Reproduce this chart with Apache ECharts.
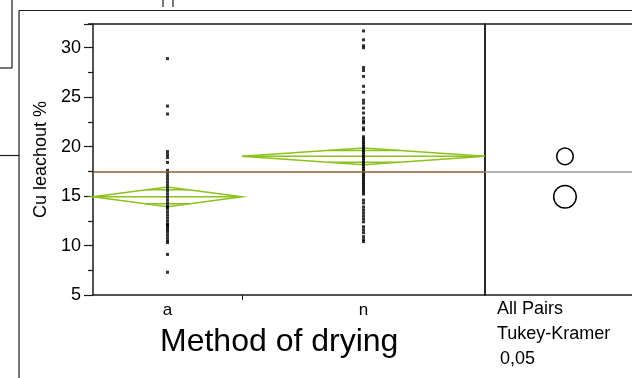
<!DOCTYPE html>
<html>
<head>
<meta charset="utf-8">
<script src="https://cdn.jsdelivr.net/npm/echarts@6/dist/echarts.min.js"></script>
<style>
  html, body { margin: 0; padding: 0; background: #fff; }
  #chart { width: 632px; height: 378px; }
</style>
</head>
<body>
<div id="chart"></div>
<script>
// Oneway analysis of Cu leachout % by method of drying
const categories = ['a', 'n'];
const groupSizes = [38, 62];

const leachA = [28.9, 24.1, 23.3, 19.5, 19.2, 18.9, 18.4, 17.6, 17.3, 17.0,
  16.7, 16.4, 16.1, 15.8, 15.5, 15.2, 14.9, 14.6, 14.3, 14.0,
  13.9, 13.7, 13.4, 13.1, 12.8, 12.5, 12.2, 12.1, 12.0, 11.8,
  11.6, 11.4, 11.1, 10.8, 10.5, 10.3, 9.1, 7.3];

const leachN = [31.7, 30.8, 30.2, 30.0, 28.0, 27.7, 27.1, 26.1, 25.5, 24.7,
  24.4, 23.9, 23.4, 22.9, 22.6, 22.4, 21.9, 21.7, 21.0, 20.8,
  20.6, 20.4, 20.2, 20.0, 19.8, 19.6, 19.4, 19.2, 19.0, 18.8,
  18.6, 18.4, 18.2, 18.0, 17.8, 17.6, 17.4, 17.2, 17.0, 16.8,
  16.6, 16.4, 16.2, 16.0, 15.8, 15.6, 15.4, 15.2, 14.6, 14.3,
  13.9, 13.6, 13.3, 13.0, 12.7, 12.4, 11.9, 11.6, 11.3, 10.9,
  10.6, 10.4];

const groupMeans = [14.93, 19.02];
const groupCI = [1.0, 0.84];
const grandMean = 17.48;
const tukeyRadii = [1.14, 0.84];

const yMin = 5, yMax = 32.4, yStep = 5;
const comparisonText = ['All Pairs', 'Tukey-Kramer', '0,05'];
const xTitle = 'Method of drying';
const yTitle = 'Cu leachout %';

// group widths on the x axis are proportional to group sizes
const total = groupSizes[0] + groupSizes[1];
const bounds = [[0, groupSizes[0]], [groupSizes[0], total]];
const centers = bounds.map(b => (b[0] + b[1]) / 2);

const pointData = [];
[leachA, leachN].forEach((vals, i) => {
  vals.forEach(v => pointData.push([centers[i], v]));
});

const diamondData = bounds.map((b, i) => [b[0], b[1], groupMeans[i], groupCI[i]]);
const circleX = 0.544;
const circleData = groupMeans.map((m, i) => [circleX, m, tukeyRadii[i]]);

const ink = '#1a1a1a';
const green = '#8cc21a';
const font = 'Liberation Sans, Arial, sans-serif';

const chart = echarts.init(document.getElementById('chart'));

chart.setOption({
  animation: false,
  backgroundColor: '#fff',
  grid: [
    { left: 93, top: 24, width: 392, height: 271 },
    { left: 485, top: 24, right: 0, height: 271 }
  ],
  xAxis: [
    {
      gridIndex: 0, type: 'value', min: 0, max: total,
      axisLine: { show: true, lineStyle: { color: ink, width: 1.5 } },
      axisTick: { show: true, customValues: [groupSizes[0]], length: 5, lineStyle: { color: ink, width: 1 } },
      axisLabel: {
        show: true, customValues: centers, margin: 7,
        color: '#000', fontSize: 17, fontFamily: font,
        formatter: v => categories[centers.indexOf(v)] || ''
      },
      splitLine: { show: false }
    },
    {
      gridIndex: 1, type: 'value', min: 0, max: 1,
      axisLine: { show: true, lineStyle: { color: ink, width: 1.5 } },
      axisTick: { show: false }, axisLabel: { show: false }, splitLine: { show: false }
    }
  ],
  yAxis: [
    {
      gridIndex: 0, type: 'value', min: yMin, max: yMax, interval: yStep,
      name: yTitle, nameLocation: 'middle', nameGap: 40, nameRotate: 90,
      nameTextStyle: { color: '#000', fontSize: 18, fontFamily: font },
      axisLine: { show: true, lineStyle: { color: ink, width: 1.5 } },
      axisTick: { show: true, length: 9, lineStyle: { color: ink, width: 1.2 } },
      minorTick: { show: true, splitNumber: 2, length: 5, lineStyle: { color: ink, width: 1.2 } },
      axisLabel: { color: '#000', fontSize: 18, fontFamily: font, margin: 12, showMaxLabel: false },
      splitLine: { show: false }, minorSplitLine: { show: false }
    },
    {
      gridIndex: 1, type: 'value', min: yMin, max: yMax,
      axisLine: { show: true, lineStyle: { color: ink, width: 1.5 } },
      axisTick: { show: false }, axisLabel: { show: false }, splitLine: { show: false }
    }
  ],
  series: [
    {
      type: 'custom', xAxisIndex: 0, yAxisIndex: 0, z: 2,
      data: diamondData,
      encode: { x: [0, 1], y: 2 },
      renderItem: (params, api) => {
        const x0 = api.value(0), x1 = api.value(1), m = api.value(2), ci = api.value(3);
        const xm = (x0 + x1) / 2;
        const L = api.coord([x0, m]), R = api.coord([x1, m]);
        const T = api.coord([xm, m + ci]), B = api.coord([xm, m - ci]);
        const half = (R[0] - L[0]) / 2;
        const ov = ci / Math.SQRT2;
        const oHalf = half * (1 - 1 / Math.SQRT2);
        const yU = api.coord([xm, m + ov])[1], yD = api.coord([xm, m - ov])[1];
        const style = { stroke: green, lineWidth: 1.5, fill: null };
        return {
          type: 'group',
          children: [
            { type: 'polygon', shape: { points: [L, T, R, B] }, style },
            { type: 'line', shape: { x1: L[0], y1: L[1], x2: R[0], y2: R[1] }, style },
            { type: 'line', shape: { x1: T[0] - oHalf, y1: yU, x2: T[0] + oHalf, y2: yU }, style },
            { type: 'line', shape: { x1: T[0] - oHalf, y1: yD, x2: T[0] + oHalf, y2: yD }, style }
          ]
        };
      }
    },
    {
      type: 'scatter', xAxisIndex: 0, yAxisIndex: 0, z: 3,
      symbol: 'rect', symbolSize: 3,
      itemStyle: { color: '#000' },
      data: pointData,
      markLine: {
        silent: true, symbol: 'none', label: { show: false },
        lineStyle: { color: '#8a5f2c', width: 1.5, type: 'solid' },
        data: [{ yAxis: grandMean }]
      }
    },
    {
      type: 'custom', xAxisIndex: 1, yAxisIndex: 1, z: 3,
      data: circleData,
      encode: { x: 0, y: 1 },
      renderItem: (params, api) => {
        const c = api.coord([api.value(0), api.value(1)]);
        const r = api.size([0, api.value(2)])[1];
        return {
          type: 'circle',
          shape: { cx: c[0], cy: c[1], r: r },
          style: { stroke: '#000', lineWidth: 1.5, fill: null }
        };
      },
      markLine: {
        silent: true, symbol: 'none', label: { show: false },
        lineStyle: { color: '#9a9a9a', width: 1.5, type: 'solid' },
        data: [{ yAxis: grandMean }]
      }
    }
  ],
  graphic: [
    // report frame lines
    { type: 'line', shape: { x1: 12, y1: 0, x2: 12, y2: 68 }, style: { stroke: ink, lineWidth: 1.2 } },
    { type: 'line', shape: { x1: 0, y1: 68, x2: 12, y2: 68 }, style: { stroke: ink, lineWidth: 1.2 } },
    { type: 'line', shape: { x1: 19, y1: 10.5, x2: 19, y2: 378 }, style: { stroke: ink, lineWidth: 1.2 } },
    { type: 'line', shape: { x1: 19, y1: 10.5, x2: 632, y2: 10.5 }, style: { stroke: ink, lineWidth: 1.2 } },
    { type: 'line', shape: { x1: 0, y1: 155.5, x2: 19, y2: 155.5 }, style: { stroke: ink, lineWidth: 1.2 } },
    { type: 'line', shape: { x1: 163, y1: 0, x2: 163, y2: 7 }, style: { stroke: ink, lineWidth: 1.2 } },
    { type: 'line', shape: { x1: 173, y1: 0, x2: 173, y2: 7 }, style: { stroke: ink, lineWidth: 1.2 } },
    // plot top border and divider
    { type: 'line', shape: { x1: 88, y1: 24, x2: 632, y2: 24 }, style: { stroke: ink, lineWidth: 1.5 } },
    { type: 'line', shape: { x1: 485, y1: 24, x2: 485, y2: 295 }, style: { stroke: ink, lineWidth: 1.5 } },
    // titles
    { type: 'text', left: 160, top: 326, style: { text: xTitle, fill: '#000', font: '32px ' + font } },
    { type: 'text', left: 497, top: 300, style: { text: comparisonText[0], fill: '#000', font: '18px ' + font } },
    { type: 'text', left: 497, top: 325, style: { text: comparisonText[1], fill: '#000', font: '18px ' + font } },
    { type: 'text', left: 500, top: 350, style: { text: comparisonText[2], fill: '#000', font: '18px ' + font } }
  ]
});
</script>
</body>
</html>
